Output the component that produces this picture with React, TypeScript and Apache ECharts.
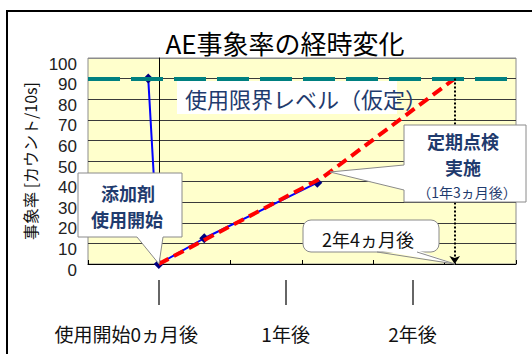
import React, { useEffect, useRef } from "react";
import * as echarts from "echarts";

// Measured AE event rate (months since additive use began -> counts per 10 s)
const measuredMonths = [-1, 0, 4.3, 15];
const measuredRate = [90, 0, 12.5, 39.5];

// Projected trend up to the usage limit
const forecastMonths = [0, 15.5, 28];
const forecastRate = [0, 42, 90];

const limitLevel = 90;
const limitReachMonth = 28;

const xTickMonths = [0, 12, 24];
const xTickLabels = ["使用開始0ヵ月後", "1年後", "2年後"];

const yTicks = [0, 10, 20, 30, 40, 50, 60, 70, 80, 90, 100];

const FONT = '"Noto Sans CJK JP", "Noto Sans", sans-serif';
const NUM_FONT = '"Liberation Sans", "DejaVu Sans", sans-serif';
const NAVY = "#1F3B6E";
const CALLOUT_EDGE = "#8a8a8a";

// one line of callout text, centred on (x, y)
const calloutText = (
  text: string,
  x: number,
  y: number,
  fontSize: number,
  bold: boolean,
  fill: string = NAVY
) => ({
  type: "text",
  silent: true,
  z: 53,
  x,
  y,
  style: {
    text,
    fontSize,
    fontWeight: bold ? "bold" : "normal",
    fontFamily: FONT,
    fill,
    align: "center",
    verticalAlign: "middle",
  },
});

export default function App() {
  const ref = useRef<HTMLDivElement>(null);

  useEffect(() => {
    if (!ref.current) return;
    const chart = echarts.init(ref.current, null, { renderer: "svg" });

    const measured = measuredMonths.map((m, i) => [m, measuredRate[i]]);
    const forecast = forecastMonths.map((m, i) => [m, forecastRate[i]]);

    chart.setOption({
      animation: false,
      backgroundColor: "#ffffff",
      title: {
        text: "AE事象率の経時変化",
        left: 280,
        top: 24,
        textAlign: "center",
        textStyle: { fontSize: 26, fontWeight: "normal", color: "#000", fontFamily: FONT },
      },
      grid: {
        left: 88,
        top: 58,
        width: 428,
        height: 206,
        show: true,
        backgroundColor: "#FFFFCC",
        borderColor: "#8c8c8c",
        borderWidth: 1,
      },
      xAxis: [
        {
          type: "value",
          min: -6.7,
          max: 33.8,
          position: "bottom",
          offset: 16,
          axisLine: { show: false, onZero: false },
          splitLine: { show: false },
          axisTick: {
            show: true,
            customValues: xTickMonths,
            length: 25,
            lineStyle: { color: "#333", width: 1.5 },
          },
          axisLabel: {
            customValues: xTickMonths,
            margin: 44,
            fontSize: 19,
            fontFamily: FONT,
            color: "#111",
            formatter: (v: number) => {
              const i = xTickMonths.indexOf(v);
              const t = i >= 0 ? xTickLabels[i] : "";
              return i === 0 ? `{first|${t}}` : t;
            },
            rich: {
              first: { fontSize: 19, fontFamily: FONT, color: "#111", padding: [0, 65, 0, 0] },
            },
          },
        },
        {
          type: "value",
          min: 0,
          max: 6,
          interval: 1,
          position: "bottom",
          axisLine: { show: true, onZero: false, lineStyle: { color: "#000", width: 1 } },
          axisTick: { show: true, inside: true, length: 4, lineStyle: { color: "#000" } },
          axisLabel: { show: false },
          splitLine: { show: false },
        },
      ],
      yAxis: {
        type: "value",
        min: 0,
        max: 100,
        interval: 10,
        name: "事象率 [カウント/10s]",
        nameLocation: "middle",
        nameRotate: 90,
        nameGap: 50,
        nameTextStyle: { fontSize: 16, color: "#111", fontFamily: FONT },
        axisLine: { show: true, lineStyle: { color: "#000", width: 1 } },
        axisTick: { show: false },
        axisLabel: {
          margin: 11,
          fontSize: 17,
          lineHeight: 12,
          verticalAlign: "top",
          color: "#222",
          fontFamily: NUM_FONT,
          formatter: (v: number) => (yTicks.indexOf(v) >= 0 ? String(v) : ""),
        },
        splitLine: {
          show: true,
          lineStyle: {
            color: yTicks.map((v) => (v === 100 ? "#8c8c8c" : "#3a3a3a")),
            width: 1,
          },
        },
      },
      series: [
        {
          name: "実測",
          type: "line",
          xAxisIndex: 0,
          data: measured,
          symbol: "diamond",
          symbolSize: 10,
          itemStyle: { color: "#000080" },
          lineStyle: { color: "#0000FF", width: 2 },
          z: 3,
        },
        {
          name: "予測",
          type: "line",
          xAxisIndex: 0,
          data: forecast,
          symbol: "none",
          lineStyle: { color: "#FF0000", width: 4, type: [11, 6] },
          z: 4,
          markLine: {
            silent: true,
            symbol: ["none", "none"],
            label: { show: false },
            z: 6,
            data: [
              {
                yAxis: limitLevel,
                lineStyle: { color: "#008080", width: 4, type: [32, 11] },
              },
              [
                {
                  coord: [limitReachMonth, limitLevel],
                  symbol: "none",
                  lineStyle: { color: "#000", width: 2, type: [2, 2] },
                },
                { coord: [limitReachMonth, 0], symbol: "arrow", symbolSize: 8 },
              ],
            ],
          },
        },
      ],
      graphic: [
        // outer chart frame
        {
          type: "rect",
          silent: true,
          z: 100,
          shape: { x: 7, y: 11, width: 560, height: 400 },
          style: { fill: "none", stroke: "#000", lineWidth: 2 },
        },
        // usage-limit caption
        {
          type: "rect",
          silent: true,
          z: 1,
          shape: { x: 177, y: 81, width: 220, height: 33 },
          style: { fill: "#ffffff" },
        },
        {
          type: "text",
          silent: true,
          z: 1,
          x: 185,
          y: 98,
          style: {
            text: "使用限界レベル（仮定）",
            fontSize: 22,
            fontFamily: FONT,
            fill: NAVY,
            verticalAlign: "middle",
          },
        },
        // callout: start of additive use
        {
          type: "polygon",
          silent: true,
          z: 50,
          shape: {
            points: [
              [78, 173],
              [182, 173],
              [182, 237],
              [163, 237],
              [159, 264],
              [137, 237],
              [78, 237],
            ],
          },
          style: { fill: "#ffffff", stroke: CALLOUT_EDGE, lineWidth: 1 },
        },
        calloutText("添加剤", 128, 193, 18, true),
        calloutText("使用開始", 127, 219, 18, true),
        // callout: periodic inspection
        {
          type: "polygon",
          silent: true,
          z: 50,
          shape: {
            points: [
              [404, 125],
              [526, 125],
              [526, 202],
              [404, 202],
              [404, 190],
              [330, 172],
              [404, 165],
            ],
          },
          style: { fill: "#ffffff", stroke: CALLOUT_EDGE, lineWidth: 1 },
        },
        calloutText("定期点検", 463, 141, 18, true),
        calloutText("実施", 463, 167, 18, true),
        calloutText("（1年3ヵ月後）", 467, 192, 14, false),
        // callout: limit reached
        {
          type: "rect",
          silent: true,
          z: 50,
          shape: { x: 303, y: 220, width: 136, height: 32, r: 8 },
          style: { fill: "#ffffff", stroke: CALLOUT_EDGE, lineWidth: 1 },
        },
        {
          type: "polygon",
          silent: true,
          z: 51,
          shape: {
            points: [
              [377, 250],
              [455, 264],
              [417, 250],
            ],
          },
          style: { fill: "#ffffff" },
        },
        {
          type: "polyline",
          silent: true,
          z: 52,
          shape: {
            points: [
              [377, 252],
              [455, 264],
              [417, 252],
            ],
          },
          style: { fill: "none", stroke: CALLOUT_EDGE, lineWidth: 1 },
        },
        calloutText("2年4ヵ月後", 368, 239, 18, false, "#111"),
      ],
    });

    return () => chart.dispose();
  }, []);

  return (
    <div
      ref={ref}
      style={{ position: "absolute", left: 0, top: 0, width: 532, height: 354, background: "#fff" }}
    />
  );
}
